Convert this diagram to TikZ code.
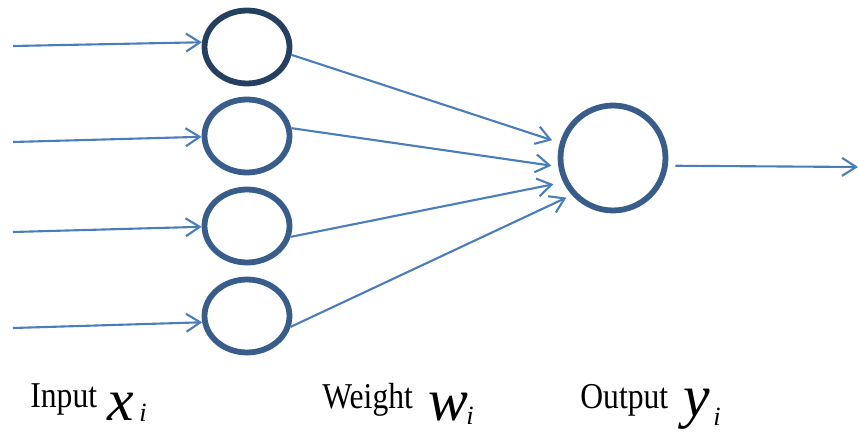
\documentclass[tikz,border=0pt]{standalone}
\usepackage{fontspec}
\setmainfont{Liberation Serif}
\usetikzlibrary{arrows.meta,shapes.geometric}
\definecolor{linkblue}{HTML}{4A7EBB}
\definecolor{cellblue}{HTML}{385D8A}
\definecolor{celldark}{HTML}{243F60}
\newcommand{\tallword}[1]{\scalebox{1}[1.15]{#1}}

\begin{document}
\begin{tikzpicture}[x=0.02cm,y=-0.02cm,
    cell/.style={ellipse,draw=cellblue,line width=3.3pt,minimum width=1.7cm,minimum height=1.46cm,inner sep=0pt},
    link/.style={draw=linkblue,line width=1.2pt,-{Straight Barb[length=0.28cm,width=0.36cm]}},
    word/.style={anchor=base west,inner sep=0pt,font=\fontsize{18}{18}\selectfont},
    sym/.style={anchor=base west,inner sep=0pt,font=\fontsize{34}{34}\selectfont\itshape},
    idx/.style={anchor=base west,inner sep=0pt,font=\fontsize{15}{15}\selectfont\itshape}]
    \useasboundingbox (0,0) rectangle (858,432);
    % input cells
    \node[cell,draw=celldark] (x1) at (247,47) {};
    \node[cell] (x2) at (247,136) {};
    \node[cell] (x3) at (247,226) {};
    \node[cell] (x4) at (247,316) {};
    % output cell
    \node[circle,draw=cellblue,line width=3.3pt,minimum size=2.1cm,inner sep=0pt] (y) at (613,158) {};
    \coordinate (in1) at (13,46);
    \coordinate (in2) at (13,142);
    \coordinate (in3) at (13,232);
    \coordinate (in4) at (13,328);
    \coordinate (out) at (858,167);
    % incoming signals
    \draw[link] (in1) -- (x1.174);
    \draw[link] (in2) -- (x2.181);
    \draw[link] (in3) -- (x3.181);
    \draw[link] (in4) -- (x4.188);
    % weighted links
    \draw[link,shorten >=0.16cm] (x1.-10) -- (y.164);
    \draw[link,shorten >=0.14cm] (x2.10) -- (y.189);
    \draw[link,shorten >=0.2cm] (x3.-14) -- (y.206);
    \draw[link,shorten >=0.12cm] (x4.-14) -- (y.222);
    \draw[link,shorten <=0.15cm] (y.-8) -- (out);
    % labels
    \node[word] (inlbl) at (30,407) {\tallword{Input}};
    \node[sym] (xsym) at (107,420) {x};
    \node[idx] (xidx) at (139,421) {i};
    \node[word] (wlbl) at (322,408) {\tallword{Weight}};
    \node[sym] (wsym) at (428,420) {w};
    \node[idx] (widx) at (466,424) {i};
    \node[word] (outlbl) at (580,408) {\tallword{Output}};
    \node[sym] (ysym) at (683,416) {y};
    \node[idx] (yidx) at (713,425) {i};
\end{tikzpicture}
\end{document}
